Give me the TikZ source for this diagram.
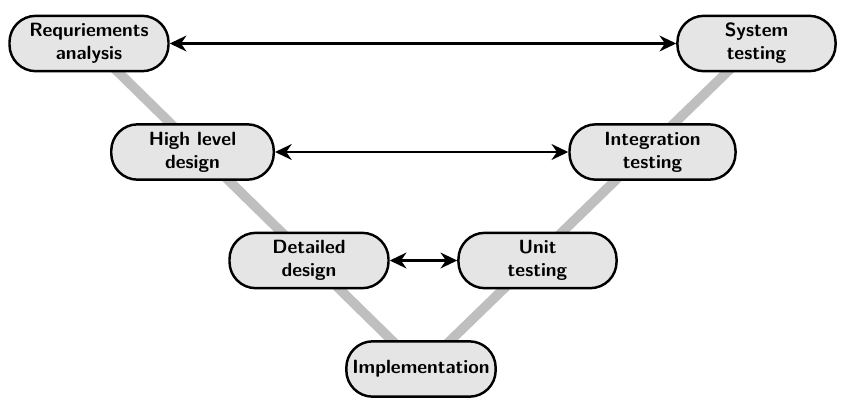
\documentclass[tikz,border=0pt]{standalone}
\usetikzlibrary{arrows.meta,backgrounds}
\begin{document}
\begin{tikzpicture}[x=0.02cm,y=-0.02cm,
  phase/.style={draw,line width=1.4pt,fill=gray!20,rectangle,rounded corners=15pt,
    minimum height=31.5pt,align=center,font=\fontsize{10.9}{13}\sffamily\bfseries,inner sep=2pt},
  vline/.style={line width=5.5pt,gray!50},
  link/.style={{Stealth[length=9.5pt,width=9pt]}-{Stealth[length=9.5pt,width=9pt]},line width=1.3pt}]
\useasboundingbox (0,0) rectangle (844,403);
\node[phase,minimum width=90.5pt] (req) at (89,43.5) {Requriements\\analysis};
\node[phase,minimum width=90pt] (sys) at (756.5,43.5) {System\\testing};
\node[phase,minimum width=92.5pt] (hld) at (192.5,152) {High level\\design};
\node[phase,minimum width=94.5pt] (int) at (652.5,152) {Integration\\testing};
\node[phase,minimum width=90.5pt] (dd) at (309,260.5) {Detailed\\design};
\node[phase,minimum width=90pt] (unit) at (537.5,260.5) {Unit\\testing};
\node[phase,minimum width=85pt] (impl) at (421,369) {Implementation};
\begin{scope}[on background layer]
\draw[vline] (req.center) -- (impl.center) -- (sys.center);
\end{scope}
\draw[link] (req) -- (sys);
\draw[link] (hld) -- (int);
\draw[link] (dd) -- (unit);
\end{tikzpicture}
\end{document}
